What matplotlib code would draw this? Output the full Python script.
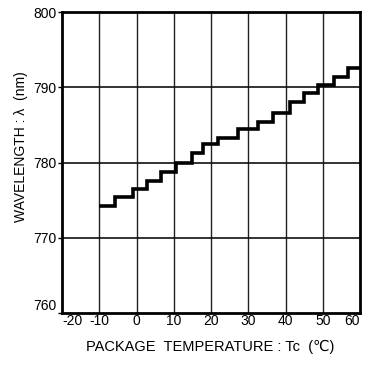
import matplotlib.pyplot as plt

plt.rcParams['font.family'] = ['Liberation Sans', 'DejaVu Sans', 'Noto Sans CJK JP']
plt.rcParams['axes.unicode_minus'] = False

# step edges (package temperature, degC) and the wavelength held on each step
temp_edges = [-10, -5.7, -0.9, 2.8, 6.6, 10.6, 14.8, 17.8, 21.8, 27.2,
              32.5, 36.7, 41.1, 44.9, 48.6, 53.0, 56.7, 60]
wavelength = [774.2, 775.4, 776.5, 777.6, 778.7, 779.9, 781.2, 782.4, 783.3,
              784.4, 785.4, 786.6, 788.0, 789.2, 790.3, 791.4, 792.6]

x_ticks = [-20, -10, 0, 10, 20, 30, 40, 50, 60]
y_ticks = [760, 770, 780, 790, 800]

fig = plt.figure(figsize=(3.71, 3.67), dpi=100)
ax = fig.add_axes([62 / 371, 54 / 367, 298 / 371, 301 / 367])

# grid first so the curve sits on top
for t in x_ticks[1:-1]:
    ax.axvline(t, color='#222222', lw=1.0, zorder=1)
for w in y_ticks[1:-1]:
    ax.axhline(w, color='#111111', lw=1.2, zorder=1)

ax.stairs(wavelength, temp_edges, baseline=None, color='black', lw=2.6, zorder=3)

ax.set_xlim(-20, 60)
ax.set_ylim(760, 800)
ax.set_xticks(x_ticks)
ax.set_yticks(y_ticks)
ax.tick_params(axis='x', length=0, pad=1, labelsize=10)
ax.tick_params(axis='y', length=3, width=1, pad=1, labelsize=10)
# keep the corner labels inside the frame width and off each other
ax.get_yticklabels()[0].set_verticalalignment('bottom')
ax.get_xticklabels()[0].set_horizontalalignment('left')
ax.get_xticklabels()[-1].set_horizontalalignment('right')
for s in ax.spines.values():
    s.set_linewidth(2)

fig.text(210 / 371, 1 - 347 / 367, 'PACKAGE  TEMPERATURE : Tc  (℃)',
         ha='center', va='center', fontsize=10.5)
fig.text(21 / 371, 1 - 147 / 367, 'WAVELENGTH : λ  (nm)',
         ha='center', va='center', rotation=90, fontsize=10)

fig.savefig('out.png', dpi=100)
